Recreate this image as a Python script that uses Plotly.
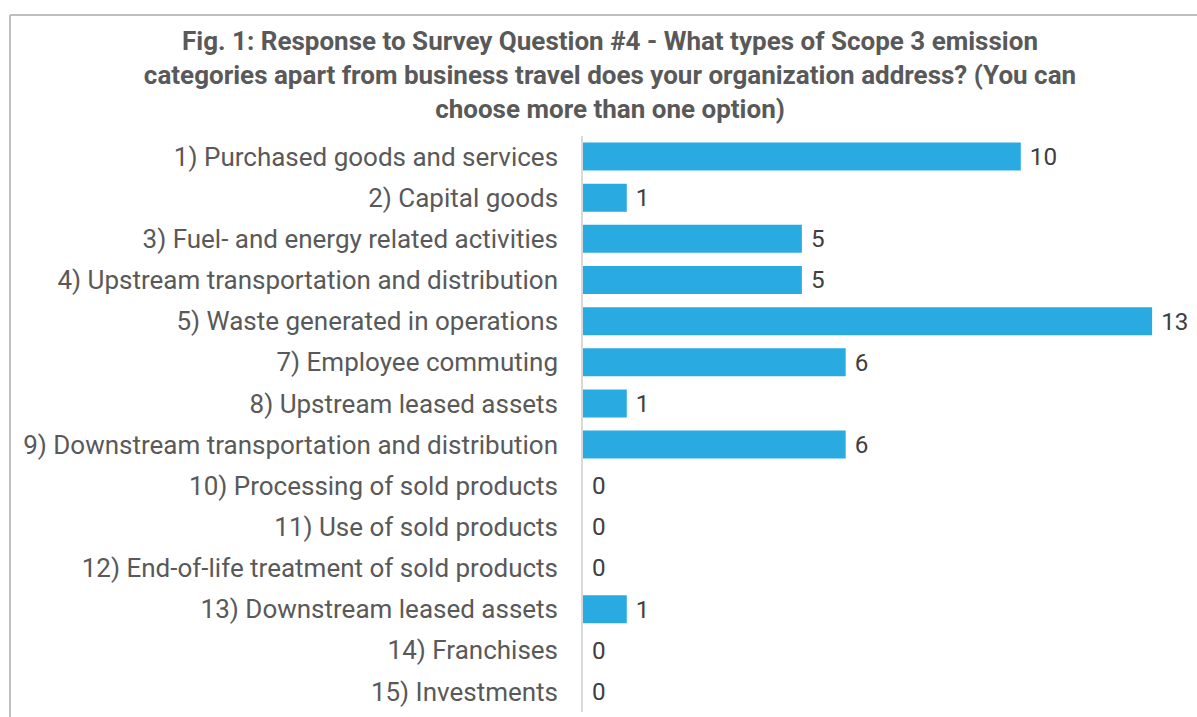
import plotly.graph_objects as go

categories = [
    "1) Purchased goods and services",
    "2) Capital goods",
    "3) Fuel- and energy related activities",
    "4) Upstream transportation and distribution",
    "5) Waste generated in operations",
    "7) Employee commuting",
    "8) Upstream leased assets",
    "9) Downstream transportation and distribution",
    "10) Processing of sold products",
    "11) Use of sold products",
    "12) End-of-life treatment of sold products",
    "13) Downstream leased assets",
    "14) Franchises",
    "15) Investments",
]
values = [10, 1, 5, 5, 13, 6, 1, 6, 0, 0, 0, 1, 0, 0]

title_text = ("Fig. 1: Response to Survey Question #4 - What types of Scope 3 emission<br>"
              "categories apart from business travel does your organization address? (You can<br>"
              "choose more than one option)")

W, H = 1197, 717
ML, MR, MT, MB = 583, 23, 136, 5
xmax = 13.5

fig = go.Figure(go.Bar(
    y=categories, x=values, orientation="h",
    marker=dict(color="#29ABE2", line=dict(width=0)),
    text=["\u00a0" + str(v) for v in values], textposition="outside",
    textfont=dict(family="Roboto", size=26, color="#404040"),
    cliponaxis=False, textangle=0,
))

pw = W - ML - MR
ph = H - MT - MB
def px_to_paper_x(px):
    return (px - ML) / pw
def px_to_paper_y(py):
    return (H - MB - py) / ph

fig.update_layout(
    width=W, height=H,
    margin=dict(l=ML, r=MR, t=MT, b=MB),
    paper_bgcolor="white", plot_bgcolor="white",
    bargap=0.32,
    showlegend=False,
    title=dict(text=title_text, x=610 / W, xanchor="center", xref="container",
               y=1 - 50 / H, yanchor="top", yref="container",
               font=dict(family="Roboto", size=26, color="#595959", weight="bold")),
    xaxis=dict(range=[0, xmax], visible=False, fixedrange=True),
    yaxis=dict(autorange="reversed", showgrid=False, showline=True, linecolor="#D9D9D9",
               linewidth=1.5, ticks="", ticklabelstandoff=18,
               tickfont=dict(family="Roboto", size=26, color="#595959")),
    shapes=[
        dict(type="line", xref="paper", yref="paper",
             x0=px_to_paper_x(10), x1=px_to_paper_x(1210),
             y0=px_to_paper_y(15), y1=px_to_paper_y(15),
             line=dict(color="#BFBFBF", width=2)),
        dict(type="line", xref="paper", yref="paper",
             x0=px_to_paper_x(10), x1=px_to_paper_x(10),
             y0=px_to_paper_y(15), y1=px_to_paper_y(730),
             line=dict(color="#BFBFBF", width=2)),
    ],
)

fig.write_html("out.html")
